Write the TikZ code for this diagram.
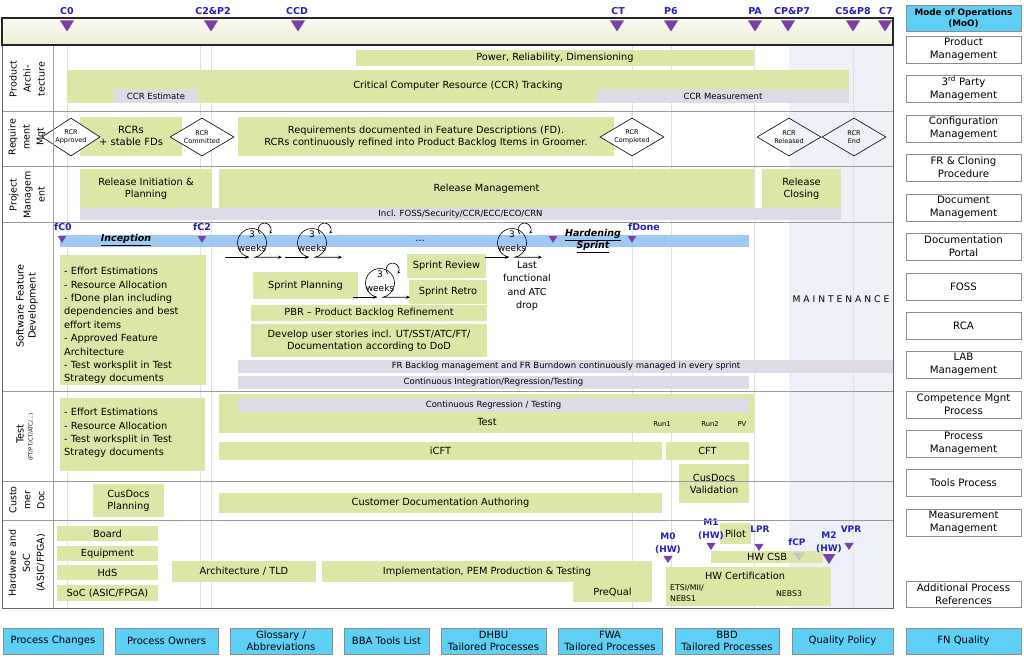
\documentclass[tikz,border=0pt]{standalone}
\usepackage{fontspec}
\setmainfont{DejaVu Sans}
\usetikzlibrary{arrows.meta,shapes.geometric}
\definecolor{grn}{HTML}{DCE6A6}
\definecolor{lav}{HTML}{DEDAE6}
\definecolor{bluebar}{HTML}{9FC9F3}
\definecolor{cyanb}{HTML}{5ECFF5}
\definecolor{maint}{HTML}{EEF2F8}
\definecolor{mspur}{HTML}{7B3FA8}
\definecolor{msblue}{HTML}{2222B5}
\definecolor{boxgray}{HTML}{8C8C8C}
\definecolor{linegray}{HTML}{9A9A9A}
\definecolor{cream}{HTML}{EEEED6}
\definecolor{creamtop}{HTML}{FAFAF2}
\newcommand{\mybox}[7][gbox]{%
  \node[#1, minimum width={(#5)-(#3)}, minimum height={(#6)-(#4)}] (#2) at ({((#3)+(#5))/2},{((#4)+(#6))/2}) {#7};}
\tikzset{
  gbox/.style={fill=grn, draw=none, inner sep=0pt, outer sep=0pt, align=center},
  lbox/.style={fill=lav, draw=none, inner sep=0pt, outer sep=0pt, align=center, font=\fontsize{8.5}{10}\selectfont},
  bbarst/.style={fill=bluebar, draw=none, inner sep=0pt, outer sep=0pt},
  moo/.style={draw=boxgray, fill=white, line width=0.8pt, inner sep=0pt, align=center, font=\fontsize{10.2}{12.8}\selectfont},
  cbox/.style={draw=boxgray, fill=cyanb, line width=0.8pt, inner sep=0pt, align=center, font=\fontsize{10}{12.5}\selectfont},
  dmd/.style={diamond, aspect=1.7, draw=black, line width=0.6pt, inner sep=0pt, minimum width=64, minimum height=38, align=center, font=\fontsize{6.5}{8.5}\selectfont},
  rowlab/.style={rotate=90, align=center, inner sep=0pt, font=\fontsize{9.5}{14}\selectfont},
  mslab/.style={text=msblue, inner sep=0pt, align=center, font=\bfseries\fontsize{9.5}{13}\selectfont},
  txt/.style={inner sep=0pt, align=center},
  listtxt/.style={inner sep=0pt, anchor=north west, align=left, font=\fontsize{9.8}{13.4}\selectfont},
  guide/.style={black!12, line width=0.5pt},
  rowline/.style={linegray, line width=0.9pt},
  ms/.pic={\fill[mspur] (-7,-5.5) -- (7,-5.5) -- (0,5.5) -- cycle;},
  msgray/.pic={\fill[black!22] (-6,-4) -- (6,-4) -- (0,4) -- cycle;},
  sprintloop/.pic={
    \draw[line width=0.6pt,-{Stealth[length=4pt,width=3.2pt]}] (-27,14.2) -- (-3,14.2);
    \draw[line width=0.6pt,-{Stealth[length=4pt,width=3.2pt]}] (-3,14.2) arc[start angle=102,end angle=438,radius=14.5] -- (30,14.2);
    \draw[line width=0.6pt,-{Stealth[length=3pt,width=2.6pt]}] (8,-9) arc[start angle=135,end angle=400,radius=6.4];
    \node[inner sep=0pt,font=\fontsize{9}{9}\selectfont] (-t) at (0,-9) {3};
    \node[inner sep=0pt,font=\fontsize{9}{9}\selectfont] (-w) at (0,5) {weeks};
  },
}
\begin{document}
\begin{tikzpicture}[x=1pt,y=-1pt,font=\fontsize{9.8}{12}\selectfont]
\useasboundingbox (0,0) rectangle (1024,661);

% backgrounds
\shade[top color=creamtop,bottom color=cream] (2,18) rectangle (893,45);
\fill[maint] (789,45) rectangle (893,608);
\foreach \gx in {67,200,211,632,671,754,853} \draw[guide] (\gx,45) -- (\gx,608);

% row labels
\node[rowlab] (rl1) at (27,79) {Product\\Archi-\\tecture};
\node[rowlab] (rl2) at (27,137) {Require\\ment\\Mgt};
\node[rowlab] (rl3) at (27,195) {Project\\Managem\\ent};
\node[rowlab,font=\fontsize{9.8}{12}\selectfont] (rl4) at (27,306) {Software Feature\\Development};
\node[rowlab,font=\fontsize{9.8}{12}\selectfont] (rl5) at (20,434) {Test};
\node[rowlab,font=\fontsize{5.5}{6}\selectfont] (rl5b) at (31,437) {(FT/PT/CT/ATC/...)};
\node[rowlab] (rl6) at (27,500) {Custo\\mer\\Doc};
\node[rowlab] (rl7) at (27,563) {Hardware and\\SoC\\(ASIC/FPGA)};

% Product Architecture
\mybox{pwr}{356}{50}{754}{66}{Power, Reliability, Dimensioning}
\mybox{ccr}{67}{70}{849}{103}{}
\node[txt] (ccrt) at (458,86) {Critical Computer Resource (CCR) Tracking};
\mybox[lbox]{ccre}{114}{89}{198}{103}{CCR Estimate}
\mybox[lbox]{ccrm}{597}{89}{849}{103}{CCR Measurement}

% Requirement Mgt
\mybox{rcrs}{80}{117}{182}{156}{}
\mybox{reqfd}{238}{117}{614}{156}{Requirements documented in Feature Descriptions (FD).\\RCRs continuously refined into Product Backlog Items in Groomer.}
\node[dmd, fill=white, minimum width=58] (dapp) at (71,137) {RCR\\Approved};
\node[dmd, fill=white] (dcom) at (202,137) {RCR\\Committed};
\node[dmd, fill=white] (dcpl) at (632,137) {RCR\\Completed};
\node[dmd] (drel) at (789,137) {RCR\\Released};
\node[dmd] (dend) at (854,137) {RCR\\End};
\node[txt, font=\fontsize{10}{12}\selectfont] (rcrst) at (131,136) {RCRs\\+ stable FDs};

% Project Management
\mybox{rip}{80}{169}{212}{208}{Release Initiation \&\\Planning}
\mybox{rm}{219}{169}{754}{208}{Release Management}
\mybox{rc}{762}{169}{841}{208}{Release\\Closing}
\mybox[lbox]{incl}{80}{208}{841}{220}{Incl. FOSS/Security/CCR/ECC/ECO/CRN}

% Software Feature Development
\mybox[bbarst]{bbar}{60}{235}{749}{247}{}
\pic[scale=0.6] (mf0) at (62,239.5) {ms};
\node[mslab] (lf0) at (63,227) {fC0};
\pic[scale=0.6] (mf2) at (202,239.5) {ms};
\node[mslab] (lf2) at (202,227) {fC2};
\pic[scale=0.6] (mhs) at (553,239.5) {ms};
\pic[scale=0.6] (mfd) at (632,239.5) {ms};
\node[mslab] (lfd) at (644,227) {fDone};
\node[txt, font=\bfseries\itshape\fontsize{9.5}{12}\selectfont] (incep) at (126,240) {\underline{Inception}};
\node[txt, font=\bfseries\itshape\fontsize{9.5}{12.5}\selectfont] (hard) at (593,241) {\underline{Hardening}\\\underline{Sprint}};
\node[txt] (dots) at (420,241) {...};

\mybox{spl}{253}{272}{358}{299}{Sprint Planning}
\mybox{srev}{407}{254}{486}{278}{Sprint Review}
\mybox{sret}{409}{280}{487}{304}{Sprint Retro}
\mybox{pbr}{251}{305}{487}{321}{PBR \textendash{} Product Backlog Refinement}
\mybox{dev}{251}{324}{487}{357}{Develop user stories incl. UT/SST/ATC/FT/\\Documentation according to DoD}

\pic (L1) at (252,243) {sprintloop};
\pic (L2) at (312,243) {sprintloop};
\pic (L4) at (512,243) {sprintloop};
\pic (L3) at (380,283) {sprintloop};

\node[txt, font=\fontsize{9.6}{13.5}\selectfont] (lastf) at (527,286) {Last\\functional\\and ATC\\drop};

\mybox{sfdl}{60}{255}{206}{385}{}
\node[listtxt] (sfdlt) at (64,267) {- Effort Estimations\\- Resource Allocation\\- fDone plan including\\dependencies and best\\effort items\\- Approved Feature\\Architecture\\- Test worksplit in Test\\Strategy documents};
\mybox[lbox]{frb}{238}{360}{894}{373}{FR Backlog management and FR Burndown continuously managed in every sprint}
\mybox[lbox]{cir}{238}{376}{749}{389}{Continuous Integration/Regression/Testing}
\node[txt, font=\fontsize{9.2}{11}\selectfont] (maintxt) at (841,299) {M A I N T E N A N C E};

% Test
\mybox{tl}{60}{398}{205}{471}{}
\node[listtxt] (tlt) at (64,408) {- Effort Estimations\\- Resource Allocation\\- Test worksplit in Test\\Strategy documents};
\mybox{test}{219}{394}{754}{433}{}
\mybox[lbox]{creg}{238}{398}{749}{412}{Continuous Regression / Testing}
\node[txt] (testt) at (487,422) {Test};
\node[txt, font=\fontsize{6.8}{8}\selectfont] (run1) at (662,424) {Run1};
\node[txt, font=\fontsize{6.8}{8}\selectfont] (run2) at (710,424) {Run2};
\node[txt, font=\fontsize{6.8}{8}\selectfont] (pv) at (742,424) {PV};
\mybox{icft}{219}{442}{662}{460}{iCFT}
\mybox{cft}{666}{442}{749}{460}{CFT}
\mybox{cdv}{679}{464}{749}{503}{CusDocs\\Validation}

% Customer Doc
\mybox{cdp}{93}{484}{164}{517}{CusDocs\\Planning}
\mybox{cda}{219}{493}{662}{513}{Customer Documentation Authoring}

% Hardware and SoC
\mybox{board}{57}{526}{158}{541}{Board}
\mybox{equip}{57}{546}{158}{561}{Equipment}
\mybox{hds}{57}{565}{158}{580}{HdS}
\mybox{soc}{57}{585}{158}{601}{SoC (ASIC/FPGA)}
\mybox{arch}{172}{561}{316}{582}{Architecture / TLD}
\mybox{impl}{322}{561}{652}{582}{Implementation, PEM Production \& Testing}
\mybox{preq}{573}{582}{652}{602}{PreQual}
\mybox{hwc}{666}{567}{831}{606}{}
\node[txt] (hwct) at (745,576) {HW Certification};
\node[txt, anchor=west, align=left, font=\fontsize{7.8}{11}\selectfont] (etsi) at (670,593) {ETSI/MII/\\NEBS1};
\node[txt, font=\fontsize{7.8}{9}\selectfont] (nebs3) at (789,594) {NEBS3};
\mybox{csb}{711}{551}{823}{563}{HW CSB}
\mybox{pilot}{720}{523}{751}{544}{Pilot}

\pic[scale=0.65] (m0) at (668,559.5) {ms};
\node[mslab, font=\bfseries\fontsize{9}{13}\selectfont] (lm0) at (668,543) {M0\\(HW)};
\pic[scale=0.65] (m1) at (711,546.5) {ms};
\node[mslab, font=\bfseries\fontsize{9}{13}\selectfont] (lm1) at (711,529) {M1\\(HW)};
\pic[scale=0.65] (mlpr) at (759,547.5) {ms};
\node[mslab, font=\bfseries\fontsize{9}{13}\selectfont] (llpr) at (760,529) {LPR};
\pic (mfcp) at (799,556.5) {msgray};
\node[mslab, font=\bfseries\fontsize{9}{13}\selectfont] (lfcp) at (797,542) {fCP};
\pic[scale=0.9] (m2) at (829,559) {ms};
\node[mslab, font=\bfseries\fontsize{9}{13}\selectfont] (lm2) at (829,542.5) {M2\\(HW)};
\pic[scale=0.65] (mvpr) at (849,546.5) {ms};
\node[mslab, font=\bfseries\fontsize{9}{13}\selectfont] (lvpr) at (851,529) {VPR};

% grid lines and frame
\foreach \ry in {111,166,222,391,481,520} \draw[rowline] (2,\ry) -- (893,\ry);
\draw[rowline] (53,45) -- (53,608);
\draw[draw=black!60, line width=1pt] (2,45) rectangle (893,608);
\draw[draw=black!85, line width=1.3pt] (2,18) rectangle (893,45);

% header milestones
\pic (h1) at (67,26) {ms};   \node[mslab] (lh1) at (67,11) {C0};
\pic (h2) at (211,26) {ms};  \node[mslab] (lh2) at (213,11) {C2\&P2};
\pic (h3) at (298,26) {ms};  \node[mslab] (lh3) at (297,11) {CCD};
\pic (h4) at (617,26) {ms};  \node[mslab] (lh4) at (618,11) {CT};
\pic (h5) at (671,26) {ms};  \node[mslab] (lh5) at (671,11) {P6};
\pic (h6) at (755,26) {ms};  \node[mslab] (lh6) at (755,11) {PA};
\pic (h7) at (788,26) {ms};  \node[mslab] (lh7) at (792,11) {CP\&P7};
\pic (h8) at (853,26) {ms};  \node[mslab] (lh8) at (853,11) {C5\&P8};
\pic (h9) at (885,26) {ms};  \node[mslab] (lh9) at (886,11) {C7};

% Mode of Operations column
\mybox[cbox, font=\bfseries\fontsize{8.8}{11.5}\selectfont]{moohd}{906}{5}{1021}{31}{Mode of Operations\\(MoO)}
\mybox[moo]{mo1}{906}{36}{1021}{63}{Product\\Management}
\mybox[moo]{mo2}{906}{75}{1021}{102}{3\textsuperscript{rd} Party\\Management}
\mybox[moo]{mo3}{906}{115}{1021}{142}{Configuration\\Management}
\mybox[moo]{mo4}{906}{154}{1021}{181}{FR \& Cloning\\Procedure}
\mybox[moo]{mo5}{906}{194}{1021}{221}{Document\\Management}
\mybox[moo]{mo6}{906}{233}{1021}{260}{Documentation\\Portal}
\mybox[moo]{mo7}{906}{273}{1021}{300}{FOSS}
\mybox[moo]{mo8}{906}{312}{1021}{339}{RCA}
\mybox[moo]{mo9}{906}{351}{1021}{378}{LAB\\Management}
\mybox[moo]{mo10}{906}{391}{1021}{418}{Competence Mgnt\\Process}
\mybox[moo]{mo11}{906}{430}{1021}{457}{Process\\Management}
\mybox[moo]{mo12}{906}{469}{1021}{496}{Tools Process}
\mybox[moo]{mo13}{906}{509}{1021}{536}{Measurement\\Management}
\mybox[moo]{mo14}{906}{581}{1021}{607}{Additional Process\\References}

% bottom row
\mybox[cbox]{pc}{3}{628}{103}{654}{Process Changes}
\mybox[cbox]{po}{115}{628}{218}{654}{Process Owners}
\mybox[cbox]{gl}{230}{628}{332}{654}{Glossary /\\Abbreviations}
\mybox[cbox]{bba}{344}{628}{429}{654}{BBA Tools List}
\mybox[cbox]{dhbu}{441}{628}{546}{654}{DHBU\\Tailored Processes}
\mybox[cbox]{fwa}{558}{628}{662}{654}{FWA\\Tailored Processes}
\mybox[cbox]{bbd}{675}{628}{779}{654}{BBD\\Tailored Processes}
\mybox[cbox]{qp}{792}{628}{893}{654}{Quality Policy}
\mybox[cbox]{fnq}{906}{628}{1021}{654}{FN Quality}
\end{tikzpicture}
\end{document}
